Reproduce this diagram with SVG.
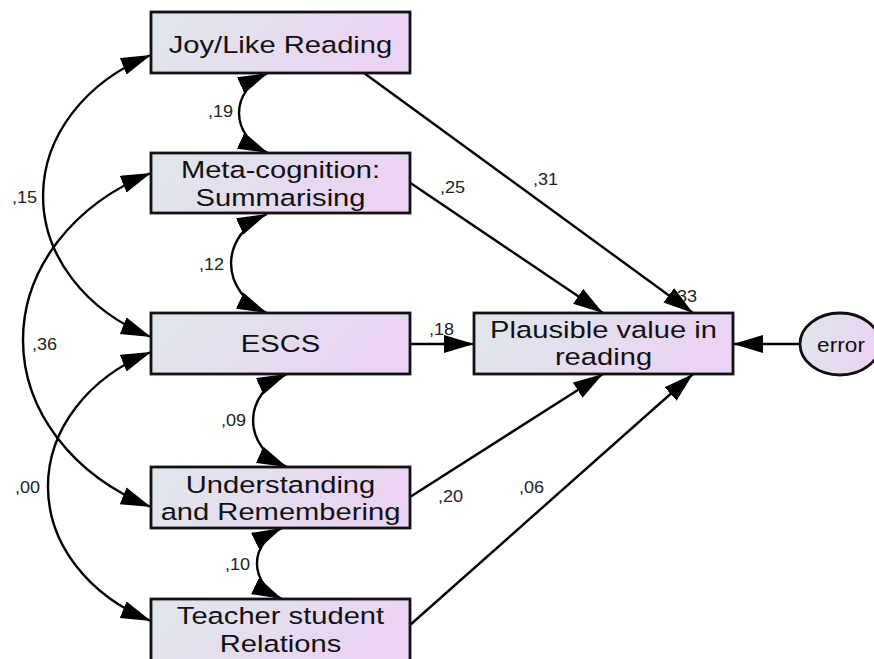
<svg xmlns="http://www.w3.org/2000/svg" width="874" height="659" viewBox="0 0 874 659">
<defs>
<linearGradient id="fillg" x1="0" y1="0" x2="1" y2="0.2">
<stop offset="0" stop-color="#dfe7eb"/>
<stop offset="1" stop-color="#ebd3f3"/>
</linearGradient>
<marker id="ah" markerUnits="userSpaceOnUse" markerWidth="32" markerHeight="20" refX="30" refY="9" orient="auto-start-reverse" viewBox="0 0 32 20">
<path d="M0,0 L30,9 L0,18 Z" fill="#000"/>
</marker>
<style>
.box{fill:url(#fillg);stroke:#111;stroke-width:2.8}
.bt{font-family:"Liberation Sans",Arial,sans-serif;font-size:23.5px;fill:#111;text-anchor:middle}
.lb{font-family:"Liberation Sans",Arial,sans-serif;font-size:16px;fill:#222}
.ln{fill:none;stroke:#000;stroke-width:2.4}
</style>
</defs>
<rect width="874" height="659" fill="#fff"/>

<g id="labels">
<text class="lb" transform="translate(208,117) scale(1.13,1)">,19</text>
<text class="lb" transform="translate(199,270) scale(1.13,1)">,12</text>
<text class="lb" transform="translate(221,426) scale(1.13,1)">,09</text>
<text class="lb" transform="translate(225,570) scale(1.13,1)">,10</text>
<text class="lb" transform="translate(12,203) scale(1.13,1)">,15</text>
<text class="lb" transform="translate(32,350) scale(1.13,1)">,36</text>
<text class="lb" transform="translate(15,493) scale(1.13,1)">,00</text>
<text class="lb" transform="translate(440,193) scale(1.13,1)">,25</text>
<text class="lb" transform="translate(533,185) scale(1.13,1)">,31</text>
<text class="lb" transform="translate(429,335) scale(1.13,1)">,18</text>
<text class="lb" transform="translate(672,302) scale(1.13,1)">,33</text>
<text class="lb" transform="translate(438,502) scale(1.13,1)">,20</text>
<text class="lb" transform="translate(519,493) scale(1.13,1)">,06</text>
</g>

<g id="connectors">
<path class="ln" marker-end="url(#ah)" d="M364,73 L693,313"/>
<path class="ln" marker-end="url(#ah)" d="M409,182 L603,313"/>
<path class="ln" marker-end="url(#ah)" d="M410,344 L474,344"/>
<path class="ln" marker-end="url(#ah)" d="M410,497 L603,374"/>
<path class="ln" marker-end="url(#ah)" d="M410,625 L693,374"/>
<path class="ln" marker-end="url(#ah)" d="M800,344 L733,344"/>
<path class="ln" marker-start="url(#ah)" marker-end="url(#ah)" d="M268,73 A56.9,45.9 0 0 0 268,153"/>
<path class="ln" marker-start="url(#ah)" marker-end="url(#ah)" d="M267,214 A70.5,56.8 0 0 0 267,313"/>
<path class="ln" marker-start="url(#ah)" marker-end="url(#ah)" d="M287,374 A66,53.2 0 0 0 287,467"/>
<path class="ln" marker-start="url(#ah)" marker-end="url(#ah)" d="M282,528 A51.2,41.3 0 0 0 282,599"/>
<path class="ln" marker-start="url(#ah)" marker-end="url(#ah)" d="M151,55 A195.5,157.7 0 0 0 151,337"/>
<path class="ln" marker-start="url(#ah)" marker-end="url(#ah)" d="M151,173 A231.5,186.7 0 0 0 151,507"/>
<path class="ln" marker-start="url(#ah)" marker-end="url(#ah)" d="M151,352 A186.5,150.4 0 0 0 151,621"/>
</g>

<g id="joy">
<rect class="box" x="151" y="12" width="259" height="61"/>
<text class="bt" transform="translate(280.5,53) scale(1.24,1)">Joy/Like Reading</text>
</g>
<g id="meta">
<rect class="box" x="151" y="153" width="259" height="60"/>
<text class="bt" transform="translate(280.5,178) scale(1.24,1)">Meta-cognition:</text>
<text class="bt" transform="translate(280.5,205.5) scale(1.24,1)">Summarising</text>
</g>
<g id="escs">
<rect class="box" x="151" y="313" width="259" height="61"/>
<text class="bt" transform="translate(280.5,352) scale(1.24,1)">ESCS</text>
</g>
<g id="understanding">
<rect class="box" x="151" y="467" width="259" height="61"/>
<text class="bt" transform="translate(280.5,492.7) scale(1.24,1)">Understanding</text>
<text class="bt" transform="translate(280.5,520) scale(1.24,1)">and Remembering</text>
</g>
<g id="teacher">
<rect class="box" x="151" y="599" width="259" height="63"/>
<text class="bt" transform="translate(280.5,624) scale(1.24,1)">Teacher student</text>
<text class="bt" transform="translate(280.5,651.5) scale(1.24,1)">Relations</text>
</g>
<g id="plausible">
<rect class="box" x="474" y="313" width="259" height="61"/>
<text class="bt" transform="translate(603.5,337.5) scale(1.24,1)">Plausible value in</text>
<text class="bt" transform="translate(603.5,365) scale(1.24,1)">reading</text>
</g>
<g id="error">
<ellipse class="box" cx="840" cy="344" rx="40" ry="31"/>
<text class="bt" style="font-size:21px" transform="translate(841,352) scale(1.08,1)">error</text>
</g>
</svg>
